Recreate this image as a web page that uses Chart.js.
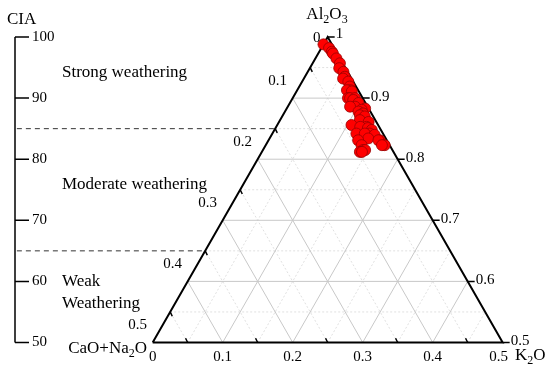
<!DOCTYPE html>
<html>
<head>
<meta charset="utf-8">
<script src="https://cdn.jsdelivr.net/npm/chart.js@4.4.1/dist/chart.umd.min.js"></script>
<style>
  html, body { margin: 0; padding: 0; background: #fff; }
  #wrap { width: 550px; height: 375px; }
</style>
</head>
<body>
<div id="wrap"><canvas id="ciaChart"></canvas></div>
<script>
// sample compositions (molar fractions, A-CN-K)
const al2o3 = [0.988, 0.982, 0.976, 0.973, 0.965, 0.957, 0.949, 0.943, 0.935, 0.932,
  0.927, 0.919, 0.913, 0.913, 0.911, 0.900, 0.900, 0.900, 0.897, 0.892,
  0.886, 0.886, 0.883, 0.881, 0.878, 0.875, 0.872, 0.870, 0.864, 0.861,
  0.856, 0.853, 0.853, 0.851, 0.848, 0.842, 0.842, 0.842, 0.840, 0.834,
  0.831, 0.831, 0.831, 0.823, 0.823, 0.823, 0.815, 0.815, 0.812, 0.812];
const caoNa2o = [0.012, 0.007, 0.006, 0.006, 0.005, 0.004, 0.009, 0.006, 0.008, 0.012,
  0.007, 0.009, 0.011, 0.016, 0.010, 0.021, 0.018, 0.011, 0.015, 0.010,
  0.018, 0.025, 0.005, 0.011, 0.017, 0.012, 0.018, 0.012, 0.022, 0.011,
  0.038, 0.018, 0.027, 0.017, 0.013, 0.019, 0.038, 0.026, 0.013, 0.025,
  0.010, 0.041, 0.012, 0.007, 0.011, 0.040, 0.042, 0.039, 0.048, 0.045];
const k2o = [0.000, 0.011, 0.018, 0.021, 0.030, 0.039, 0.042, 0.051, 0.057, 0.056,
  0.066, 0.072, 0.076, 0.071, 0.079, 0.079, 0.082, 0.089, 0.088, 0.098,
  0.096, 0.089, 0.112, 0.108, 0.105, 0.113, 0.110, 0.118, 0.114, 0.128,
  0.106, 0.129, 0.120, 0.132, 0.139, 0.139, 0.120, 0.132, 0.147, 0.141,
  0.159, 0.128, 0.157, 0.170, 0.166, 0.137, 0.143, 0.146, 0.140, 0.143];

// axis ticks
const ciaTicks = [50, 60, 70, 80, 90, 100];
const ciaBounds = [85, 65];
const ternTicks = [0, 0.1, 0.2, 0.3, 0.4, 0.5];
const minorTicks = [0.05, 0.15, 0.25, 0.35, 0.45];

// ternary -> cartesian (x: K2O + half of A above 0.5, y: CIA)
function tern(a, k) {
  return { x: k + (a - 0.5) / 2, y: a * 100 };
}

const points = al2o3.map((a, i) => {
  const s = a + caoNa2o[i] + k2o[i];
  return tern(a / s, k2o[i] / s);
});

function gridLines(vals) {
  const out = [];
  vals.forEach(v => {
    const a = 0.5 + v;
    out.push(tern(a, 0), tern(a, 1 - a), { x: NaN, y: NaN });
    out.push(tern(0.5, v), tern(1 - v, v), { x: NaN, y: NaN });
    out.push(tern(0.5, 0.5 - v), tern(1 - v, 0), { x: NaN, y: NaN });
  });
  return out;
}

const frame = [tern(0.5, 0), tern(0.5, 0.5), tern(1, 0), tern(0.5, 0)];

// small tick marks on the three edges
const edgeTicks = [];
ternTicks.forEach(v => {
  const p = tern(0.5 + v, 0.5 - v);
  edgeTicks.push(p, { x: p.x + 0.01, y: p.y }, { x: NaN, y: NaN });
});
minorTicks.forEach(v => {
  const b = tern(0.5, v);
  edgeTicks.push(b, { x: b.x - 0.003, y: b.y + 0.7 }, { x: NaN, y: NaN });
  const l = tern(1 - v, 0);
  edgeTicks.push(l, { x: l.x + 0.003, y: l.y - 0.7 }, { x: NaN, y: NaN });
});

const dashes = [];
ciaBounds.forEach(c => {
  dashes.push({ x: -0.194, y: c }, tern(c / 100, 0), { x: NaN, y: NaN });
});

function chem(ctx, parts, x, y, align, size) {
  const big = size + 'px "Liberation Serif"';
  const sub = Math.round(size * 0.7) + 'px "Liberation Serif"';
  let w = 0;
  parts.forEach((p, i) => {
    ctx.font = i % 2 ? sub : big;
    w += ctx.measureText(p).width;
  });
  let cx = align === 'right' ? x - w : align === 'center' ? x - w / 2 : x;
  ctx.textAlign = 'left';
  ctx.textBaseline = 'alphabetic';
  parts.forEach((p, i) => {
    ctx.font = i % 2 ? sub : big;
    ctx.fillText(p, cx, i % 2 ? y + size * 0.25 : y);
    cx += ctx.measureText(p).width;
  });
}

const textPlugin = {
  id: 'ternText',
  afterDraw(chart) {
    const { ctx, scales: { x, y } } = chart;
    const at = p => [x.getPixelForValue(p.x), y.getPixelForValue(p.y)];
    ctx.save();
    ctx.fillStyle = '#000';
    ctx.strokeStyle = '#000';

    // CIA axis
    const ax = 15;
    ctx.lineWidth = 1.5;
    ctx.beginPath();
    ctx.moveTo(ax, y.getPixelForValue(100));
    ctx.lineTo(ax, y.getPixelForValue(50));
    ciaTicks.forEach(t => {
      const ty = y.getPixelForValue(t);
      ctx.moveTo(ax, ty);
      ctx.lineTo(ax + 14, ty);
    });
    ctx.stroke();
    ctx.font = '15px "Liberation Serif"';
    ctx.textBaseline = 'middle';
    ctx.textAlign = 'left';
    ciaTicks.forEach(t => ctx.fillText(String(t), ax + 17, y.getPixelForValue(t)));
    ctx.font = '17px "Liberation Serif"';
    ctx.fillText('CIA', 7, 20);

    ctx.fillText('Strong weathering', 62, 73);
    ctx.fillText('Moderate weathering', 62, 185);
    ctx.fillText('Weak', 62, 282);
    ctx.fillText('Weathering', 62, 304);

    // ternary tick labels
    ctx.font = '15px "Liberation Serif"';
    ctx.textAlign = 'center';
    ternTicks.forEach(v => {
      const [bx, by] = at(tern(0.5, v));
      ctx.fillText(String(v), v === 0.5 ? bx - 4 : bx, by + 15);
      const [lx, ly] = at(tern(1 - v, 0));
      if (v === 0) ctx.fillText('0', lx - 11, ly + 1);
      else ctx.fillText(String(v), lx - 15, ly - 17);
    });
    ctx.textAlign = 'left';
    ternTicks.forEach(v => {
      const a = 0.5 + v;
      const [rx, ry] = at(tern(a, 1 - a));
      ctx.fillText(String(Math.round(a * 10) / 10), rx + 8, v === 0.5 ? ry - 3 : ry - 1);
    });

    chem(ctx, ['Al', '2', 'O', '3'], 327, 19, 'center', 17);
    chem(ctx, ['CaO+Na', '2', 'O'], 147, 353, 'right', 17);
    chem(ctx, ['K', '2', 'O'], 515, 360, 'left', 17);
    ctx.restore();
  }
};

new Chart(document.getElementById('ciaChart'), {
  type: 'scatter',
  data: {
    datasets: [
      {
        data: points,
        pointRadius: 5.5,
        pointBackgroundColor: '#ff0000',
        pointBorderColor: '#990000',
        pointBorderWidth: 0.8,
        order: 0
      },
      {
        data: frame,
        showLine: true,
        borderColor: '#000',
        borderWidth: 2,
        pointRadius: 0,
        order: 1
      },
      {
        data: edgeTicks,
        showLine: true,
        borderColor: '#000',
        borderWidth: 1.5,
        pointRadius: 0,
        order: 1
      },
      {
        data: dashes,
        showLine: true,
        borderColor: '#333',
        borderWidth: 1,
        borderDash: [5, 4],
        pointRadius: 0,
        order: 2
      },
      {
        data: gridLines(ternTicks.slice(1, 5)),
        showLine: true,
        borderColor: '#c8c8c8',
        borderWidth: 1,
        pointRadius: 0,
        order: 3
      },
      {
        data: gridLines(minorTicks),
        showLine: true,
        borderColor: '#e0e0e0',
        borderWidth: 1,
        borderDash: [2, 2],
        pointRadius: 0,
        order: 4
      }
    ]
  },
  options: {
    responsive: true,
    maintainAspectRatio: false,
    animation: false,
    layout: { padding: 0, autoPadding: false },
    plugins: { legend: { display: false }, tooltip: { enabled: false } },
    scales: {
      x: { type: 'linear', min: -0.2181, max: 0.5676, display: false },
      y: { type: 'linear', min: 44.68, max: 106.06, display: false }
    }
  },
  plugins: [textPlugin]
});
</script>
</body>
</html>
